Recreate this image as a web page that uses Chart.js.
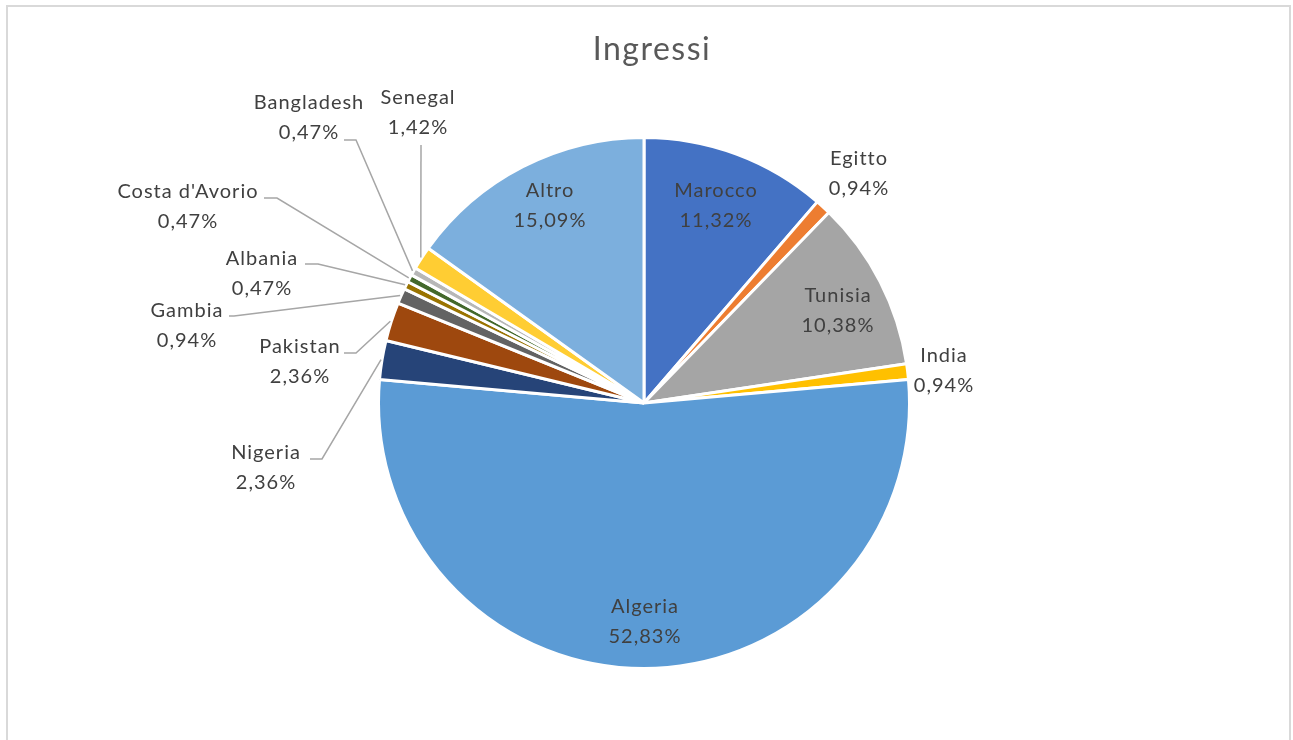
<!DOCTYPE html>
<html>
<head>
<meta charset="utf-8">
<script src="https://cdn.jsdelivr.net/npm/chart.js@4.4.1/dist/chart.umd.min.js"></script>
<style>
  html, body { margin: 0; padding: 0; background: #ffffff; }
  #wrap { position: relative; width: 1293px; height: 740px; overflow: hidden; }
  canvas { display: block; }
</style>
</head>
<body>
<div id="wrap"><canvas id="c" width="1293" height="740"></canvas></div>
<script>
const chartTitle = 'Ingressi';
const categories = ['Marocco', 'Egitto', 'Tunisia', 'India', 'Algeria', 'Nigeria', 'Pakistan', 'Gambia', 'Albania', "Costa d'Avorio", 'Bangladesh', 'Senegal', 'Altro'];
const percentages = [11.32, 0.94, 10.38, 0.94, 52.83, 2.36, 2.36, 0.94, 0.47, 0.47, 0.47, 1.42, 15.09];
const sliceColors = ['#4472C4', '#ED7D31', '#A5A5A5', '#FFC000', '#5B9BD5', '#264478', '#9E480E', '#636363', '#997300', '#43682B', '#B7B7B7', '#FFCD33', '#7CAFDD'];

// label layout: text-block centre as offset from pie centre; optional leader anchor (a) and elbow (s)
const labelLayout = {
  'Marocco':        { dx: 72,   dy: -197 },
  'Tunisia':        { dx: 194,  dy: -92 },
  'Algeria':        { dx: 1,    dy: 219 },
  'Altro':          { dx: -94,  dy: -197 },
  'Egitto':         { dx: 215,  dy: -229 },
  'India':          { dx: 300,  dy: -32 },
  'Nigeria':        { dx: -378, dy: 65,   ax: -334, ay: 56,   sx: -322, sy: 56 },
  'Pakistan':       { dx: -344, dy: -41,  ax: -300, ay: -50,  sx: -288, sy: -50 },
  'Gambia':         { dx: -457, dy: -77,  ax: -415, ay: -87,  sx: -410, sy: -87 },
  'Albania':        { dx: -382, dy: -129, ax: -339, ay: -139, sx: -326, sy: -139 },
  "Costa d'Avorio": { dx: -456, dy: -196, ax: -380, ay: -205, sx: -367, sy: -205 },
  'Bangladesh':     { dx: -335, dy: -285, ax: -300, ay: -263, sx: -288, sy: -263 },
  'Senegal':        { dx: -226, dy: -290, ax: -223, ay: -258, sx: -223, sy: -258 }
};

const FONT = 'Lato, "Open Sans", sans-serif';
const fmt = v => v.toFixed(2).replace('.', ',') + '%';

const framePlugin = {
  id: 'frame',
  beforeDraw(chart) {
    const ctx = chart.ctx;
    ctx.save();
    ctx.fillStyle = '#ffffff';
    ctx.fillRect(0, 0, chart.width, chart.height);
    ctx.strokeStyle = '#D9D9D9';
    ctx.lineWidth = 2;
    ctx.strokeRect(7, 6, 1283, 800);
    ctx.restore();
  }
};

const labelPlugin = {
  id: 'pieLabels',
  afterDatasetsDraw(chart) {
    const ctx = chart.ctx;
    const meta = chart.getDatasetMeta(0);
    ctx.save();
    // title
    ctx.fillStyle = '#595959';
    ctx.font = '32px ' + FONT;
    ctx.letterSpacing = '1.5px';
    ctx.textAlign = 'center';
    ctx.textBaseline = 'middle';
    ctx.fillText(chartTitle, 652, 50);

    ctx.font = '20px ' + FONT;
    ctx.letterSpacing = '1px';
    meta.data.forEach((arc, i) => {
      const p = arc.getProps(['x', 'y', 'startAngle', 'endAngle', 'outerRadius'], true);
      const name = categories[i];
      const lay = labelLayout[name];
      const mid = (p.startAngle + p.endAngle) / 2;
      const cx = p.x + lay.dx;
      const cy = p.y + lay.dy;
      if (lay.ax !== undefined) {
        const ex = p.x + Math.cos(mid) * (p.outerRadius + 1);
        const ey = p.y + Math.sin(mid) * (p.outerRadius + 1);
        ctx.strokeStyle = '#A6A6A6';
        ctx.lineWidth = 1.5;
        ctx.beginPath();
        ctx.moveTo(p.x + lay.ax, p.y + lay.ay);
        ctx.lineTo(p.x + lay.sx, p.y + lay.sy);
        ctx.lineTo(ex, ey);
        ctx.stroke();
      }
      ctx.fillStyle = '#404040';
      ctx.fillText(name, cx, cy - 15);
      ctx.fillText(fmt(percentages[i]), cx, cy + 15);
    });
    ctx.restore();
  }
};

new Chart(document.getElementById('c'), {
  type: 'pie',
  data: {
    labels: categories,
    datasets: [{
      data: percentages,
      backgroundColor: sliceColors,
      borderColor: '#ffffff',
      borderWidth: 3
    }]
  },
  options: {
    responsive: false,
    animation: false,
    layout: { padding: { left: 0, right: 5, top: 136, bottom: 70 } },
    plugins: {
      legend: { display: false },
      title: { display: false },
      tooltip: { enabled: false }
    }
  },
  plugins: [framePlugin, labelPlugin]
});
</script>
</body>
</html>
